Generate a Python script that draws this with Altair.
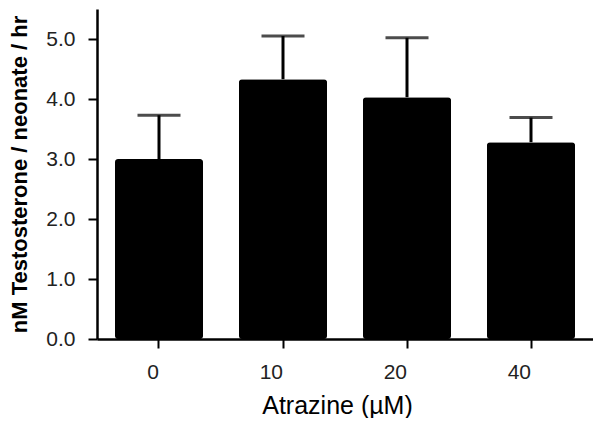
import altair as alt
import pandas as pd

categories = ["0", "10", "20", "40"]
means = [3.00, 4.33, 4.03, 3.28]
errors = [0.73, 0.72, 0.99, 0.41]
y_ticks = [0.0, 0.5, 1.0, 1.5, 2.0, 2.5, 3.0, 3.5, 4.0, 4.5, 5.0, 5.5]

df = pd.DataFrame({"dose": categories, "mean": means, "err": errors})
df["upper"] = df["mean"] + df["err"]

FONT = "Liberation Sans"

x_enc = alt.X(
    "dose:N",
    sort=categories,
    scale=alt.Scale(paddingInner=0.29, paddingOuter=0.145),
    axis=alt.Axis(
        title="Atrazine (\u00b5M)",
        labelAngle=0,
        labelFontSize=21,
        labelPadding=24,
        titleFontSize=25,
        titleFontWeight="normal",
        titlePadding=11,
        titleX=240,
        titleAlign="center",
        tickSize=9,
    ),
)
y_scale = alt.Scale(domain=[0, 5.5], nice=False)

bars = alt.Chart(df).mark_bar(color="black", cornerRadius=3).encode(
    x=x_enc,
    y=alt.Y(
        "mean:Q",
        scale=y_scale,
        axis=alt.Axis(
            title="nM Testosterone / neonate / hr",
            values=y_ticks,
            labelExpr="datum.value % 1 == 0 ? format(datum.value, '.1f') : ''",
            labelFontSize=21,
            labelPadding=13,
            titleFontSize=22,
            titleFontWeight="bold",
            titlePadding=14,
            tickSize=9,
            grid=False,
        ),
    ),
)

stems = alt.Chart(df).mark_rule(color="black", strokeWidth=3).encode(
    x=alt.X("dose:N", sort=categories),
    y=alt.Y("mean:Q", scale=y_scale),
    y2="upper:Q",
)

caps = alt.Chart(df).mark_tick(color="black", thickness=3, size=43).encode(
    x=alt.X("dose:N", sort=categories),
    y=alt.Y("upper:Q", scale=y_scale),
)

chart = (
    alt.layer(stems, caps, bars)
    .properties(width=496, height=330, padding={"left": 0, "top": 1, "right": 0, "bottom": 0})
    .configure_view(stroke=None)
    .configure_axis(
        domainColor="black",
        domainWidth=2.5,
        tickColor="black",
        tickWidth=2,
        labelColor="#222222",
        titleColor="black",
        labelFont=FONT,
        titleFont=FONT,
        grid=False,
    )
)

chart.save("out.html", embed_options={"renderer": "svg", "actions": False})
